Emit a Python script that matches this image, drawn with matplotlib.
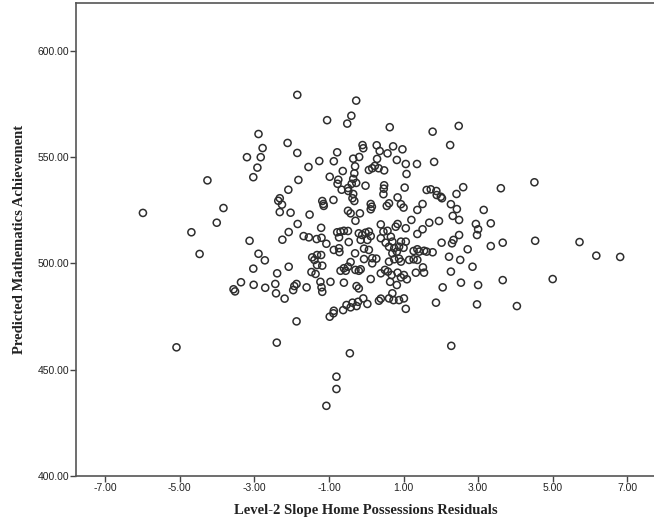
import matplotlib
matplotlib.use("Agg")
import matplotlib.pyplot as plt

plt.rcParams['axes.unicode_minus'] = False

x_resid = [
    -3.20, -2.83, -2.92, -3.03, -4.26, -5.99, -3.83, -4.01, -4.69, -3.13,
    -4.47, -2.89, -2.72, -3.03, -3.36, -3.56, -3.52, -3.02, -2.71, -2.44,
    -2.42, -2.40, -5.09, -1.85, -0.27, -0.40, -0.51, -1.05, 0.63, -2.11,
    -1.85, -0.78, -0.10, -0.08, 0.28, 0.36, 0.57, 0.72, 0.82, -1.26,
    -0.87, -0.35, -0.19, 0.29, -1.55, -0.30, -0.63, 0.23, 0.16, 0.07,
    0.33, 0.48, -0.32, -1.82, -0.98, -0.75, -0.35, -0.77, -0.39, -0.27,
    -0.02, -0.49, -0.66, -0.48, 0.48, 0.47, 0.46, -2.09, -0.35, -0.37,
    -0.32, -0.88, -1.18, -1.15, -1.14, -2.32, -2.36, -2.26, 0.12, 0.15,
    0.61, 0.55, 0.84, -2.32, -2.03, -1.52, -0.49, -0.42, -0.17, 0.12,
    -0.29, -1.84, -1.21, 0.39, 0.84, 0.57, 0.46, -2.08, -1.68, -1.54,
    -1.33, -1.20, -0.78, -0.69, -0.60, -0.49, -0.73, -0.20, -0.11, -0.02,
    0.07, 0.12, 0.03, -0.15, -2.25, -1.07, -0.47, -0.06, 0.07, 0.39,
    0.52, 0.61, 0.75, 0.88, 0.82, 0.70, 0.93, -0.87, -0.73, -0.72,
    -0.30, -1.45, -1.32, -1.21, -1.39, -0.42, -0.06, 0.16, 0.16, 0.27,
    0.61, 0.75, 0.88, -1.32, -1.18, -2.08, -2.39, -1.47, -1.36, -0.69,
    -0.60, -0.49, -0.55, -0.20, -0.15, -0.29, 0.39, 0.50, 0.58, 0.68,
    0.84, -1.23, -0.96, -0.60, 0.12, 0.64, 0.82, -1.93, -1.87, -1.96,
    -1.60, -1.20, -1.18, -0.26, -0.20, -2.19, -0.08, 0.39, 0.61, 0.73,
    -0.87, -0.88, -0.98, -0.62, -0.53, -0.42, -0.37, -0.26, -0.22, 0.03,
    0.34, 0.88, -1.87, -0.44, -0.80, -0.80, -1.07, 1.78, 2.48, 2.25,
    0.97, 1.06, 1.36, 1.82, 1.08, 1.03, 1.62, 1.73, 1.88, 1.89,
    2.00, 2.03, 2.60, 2.42, 3.61, 0.93, 1.00, 1.51, 1.37, 2.27,
    2.43, 3.15, 2.32, 2.49, 1.21, 1.69, 1.95, 0.79, 1.06, 2.94,
    3.34, 1.51, 3.00, 2.97, 1.37, 2.49, 2.34, 2.30, 2.02, 0.66,
    0.70, 1.06, 1.00, 1.27, 1.37, 1.42, 1.55, 1.62, 1.78, 2.72,
    3.34, 3.66, 0.93, 1.15, 1.27, 1.37, 2.22, 2.52, 2.85, 1.52,
    1.55, 1.33, 1.01, 0.93, 1.09, 2.27, 2.54, 3.00, 3.66, 2.05,
    0.70, 1.01, 1.87, 1.06, 2.97, 4.04, 2.28, 4.51, 4.53, 5.72,
    6.17, 6.81, 5.00, -2.89, -2.78,
]

y_pred = [
    549.9, 549.9, 545.0, 540.5, 539.0, 523.7, 526.0, 519.1, 514.6, 510.6,
    504.4, 504.5, 501.4, 497.5, 491.1, 487.8, 486.8, 489.9, 488.5, 490.3,
    485.9, 462.7, 460.5, 579.2, 576.5, 569.4, 565.7, 567.3, 564.0, 556.6,
    551.9, 552.2, 555.6, 554.1, 555.5, 552.8, 551.7, 555.0, 548.6, 548.1,
    548.0, 549.2, 550.0, 549.1, 545.3, 545.6, 543.4, 545.8, 544.7, 543.9,
    544.7, 543.7, 542.3, 539.2, 540.7, 539.3, 539.7, 537.4, 537.4, 537.8,
    536.5, 535.4, 534.6, 534.0, 536.7, 535.1, 532.5, 534.6, 532.6, 530.6,
    529.3, 529.8, 529.3, 527.9, 527.0, 530.6, 529.4, 527.6, 527.9, 526.6,
    528.2, 527.0, 531.0, 524.1, 523.8, 522.9, 524.7, 523.5, 523.5, 525.4,
    520.0, 518.5, 516.7, 518.3, 518.5, 515.3, 514.9, 514.7, 512.8, 512.2,
    511.4, 512.0, 514.6, 514.9, 515.3, 515.2, 512.2, 514.1, 513.3, 514.4,
    514.9, 512.8, 511.0, 511.0, 511.1, 509.2, 510.0, 506.9, 506.3, 511.8,
    509.7, 507.8, 507.1, 507.8, 505.5, 504.7, 510.2, 506.3, 507.1, 505.3,
    504.7, 502.8, 503.9, 503.9, 501.6, 500.6, 502.0, 502.4, 500.0, 502.2,
    500.8, 501.9, 502.2, 499.2, 498.9, 498.4, 495.3, 495.9, 495.0, 496.5,
    497.7, 498.4, 496.5, 496.5, 497.2, 496.9, 495.3, 496.9, 496.1, 494.5,
    495.6, 491.3, 491.3, 490.9, 492.6, 491.3, 489.8, 489.3, 490.3, 487.4,
    488.7, 488.7, 486.6, 489.3, 488.2, 483.4, 483.5, 483.4, 483.5, 482.7,
    477.7, 476.5, 474.9, 478.0, 480.4, 479.3, 481.5, 479.9, 481.9, 480.9,
    482.4, 482.7, 472.7, 457.7, 446.7, 440.9, 433.0, 561.9, 564.6, 555.6,
    553.6, 546.7, 546.7, 547.7, 542.0, 535.6, 534.5, 534.8, 534.0, 532.1,
    531.3, 530.6, 535.8, 532.6, 535.3, 527.8, 526.2, 527.9, 525.1, 527.8,
    525.5, 525.1, 522.3, 520.4, 520.4, 519.1, 519.9, 517.2, 516.5, 518.5,
    518.8, 516.0, 516.0, 513.3, 513.8, 513.3, 511.0, 509.4, 509.7, 512.5,
    510.2, 510.2, 507.3, 505.8, 506.6, 505.5, 505.9, 505.5, 505.2, 506.6,
    508.1, 509.7, 500.8, 501.6, 501.9, 501.6, 503.1, 501.6, 498.4, 498.1,
    495.6, 495.6, 494.5, 493.4, 492.5, 496.1, 490.9, 489.8, 492.1, 488.7,
    485.9, 483.5, 481.5, 478.6, 480.7, 479.9, 461.2, 538.1, 510.6, 510.0,
    503.6, 503.0, 492.6, 560.8, 554.2,
]

x_ticks = [-7, -5, -3, -1, 1, 3, 5, 7]
y_ticks = [400, 450, 500, 550, 600]

fig = plt.figure(figsize=(6.54, 5.27), dpi=100)
ax = fig.add_axes([76 / 654, 1 - 476 / 527, 1.003 - 76 / 654, (476 - 3) / 527])

ax.scatter(x_resid, y_pred, s=26, facecolors='none', edgecolors='#2e2e2e',
           linewidths=1.1, zorder=3)

ax.set_xlim(-7.785, 7.77)
ax.set_ylim(400, 622.4)
ax.set_xticks(x_ticks)
ax.set_xticklabels([f"{v:.2f}" for v in x_ticks])
ax.set_yticks(y_ticks)
ax.set_yticklabels([f"{v:.2f}" for v in y_ticks])

for sp in ax.spines.values():
    sp.set_color('#555555')
    sp.set_linewidth(1.2)

ax.tick_params(direction='out', length=4, width=1.0, color='#444444',
               labelsize=7.5, labelcolor='#222222', pad=1)
for lab in ax.get_xticklabels() + ax.get_yticklabels():
    lab.set_family('Liberation Sans')

ax.set_xlabel('Level-2 Slope Home Possessions Residuals', family='Liberation Serif',
              fontweight='bold', fontsize=10.5, color='#222222', labelpad=8)
ax.set_ylabel('Predicted Mathematics Achievement', family='Liberation Serif',
              fontweight='bold', fontsize=10.5, color='#222222', labelpad=8)

fig.savefig('out.png', dpi=100)
